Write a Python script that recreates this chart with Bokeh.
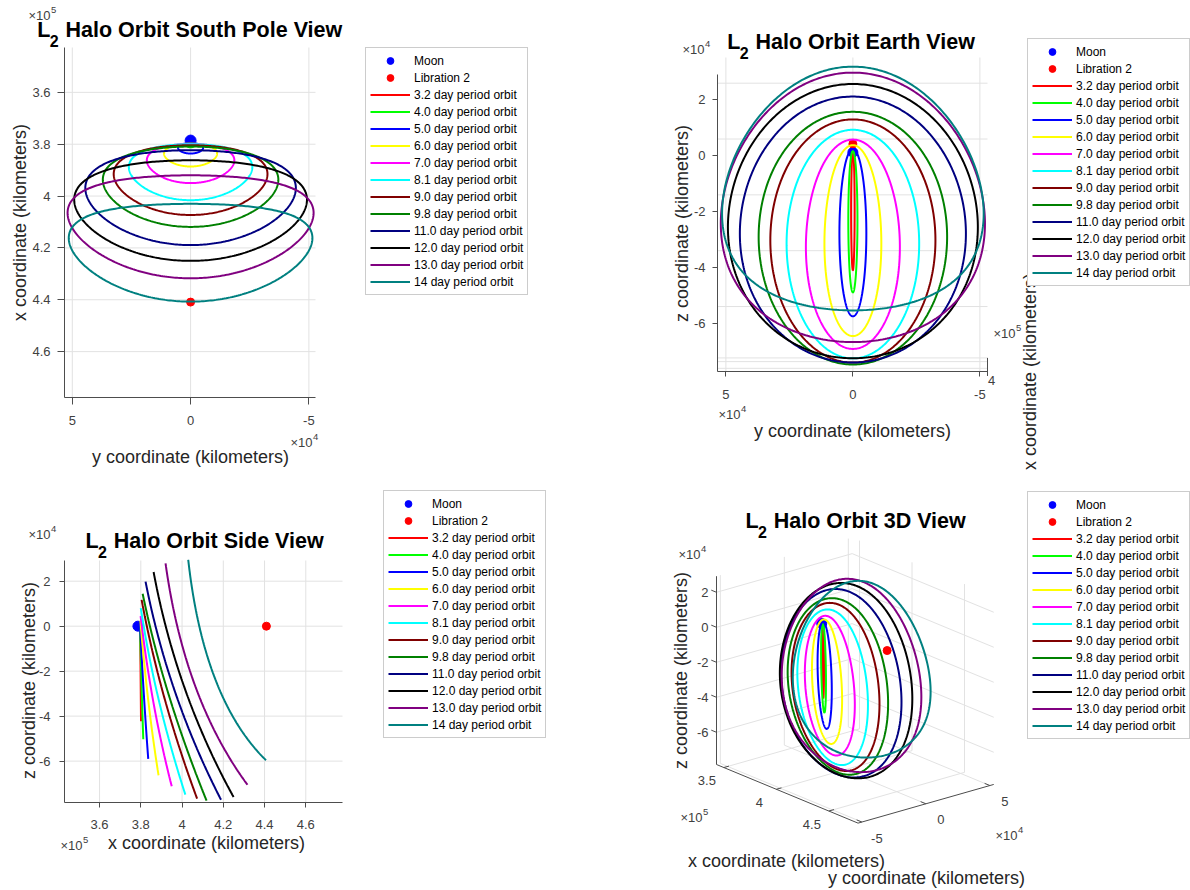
import numpy as np
from bokeh.plotting import figure
from bokeh.models import Range1d, FixedTicker, Label, Legend, LegendItem
from bokeh.layouts import row, column
from bokeh.core.properties import value
from bokeh.embed import file_html
from bokeh.resources import INLINE

FONT = "Liberation Sans"
TICK_COLOR = "#404040"
LABEL_COLOR = "#262626"
AXIS_COLOR = "#4d4d4d"
GRID_COLOR = "#e2e2e2"

# ---------------- data (km) ----------------
periods = ["3.2", "4.0", "5.0", "6.0", "7.0", "8.1", "9.0", "9.8", "11.0", "12.0", "13.0", "14"]
orbit_labels = [f"{p} day period orbit" for p in periods]
orbit_colors = ["#ff0000", "#00ff00", "#0000ff", "#ffff00", "#ff00ff", "#00ffff",
                "#800000", "#008000", "#000080", "#000000", "#800080", "#008080"]
x_min_km = [379700, 379600, 379600, 379800, 379900, 380000, 380400, 380900, 382300, 386200, 392000, 403000]
x_max_km = [380100, 381200, 383600, 388600, 395000, 401600, 407300, 411900, 418900, 425000, 431700, 440700]
x_side_km = [379900, 380300, 381400, 383600, 386200, 388800, 391500, 393700, 396900, 401400, 406500, 416200]
y_amp_km = [700, 1800, 5300, 11200, 18500, 26100, 32500, 37100, 44500, 49200, 52000, 51500]
z_max_km = [100, 500, 1100, 2500, 4500, 8000, 11700, 14400, 19800, 24100, 27900, 29500]
z_min_km = [-42300, -50300, -59000, -66300, -71200, -74900, -76700, -77600, -77200, -76000, -70500, -59600]
z_side_km = [-20800, -24500, -29200, -32900, -34300, -33200, -32100, -31000, -30000, -27900, -26900, -23800]
moon_xyz = [378600, 0, 0]
l2_xyz = [440900, 0, 0]

# ticks
y_ticks = [50000, 0, -50000]
y_tick_labels = ["5", "0", "-5"]
x_ticks = [360000, 380000, 400000, 420000, 440000, 460000]
x_tick_labels = ["3.6", "3.8", "4", "4.2", "4.4", "4.6"]
z_ticks = [-60000, -40000, -20000, 0, 20000]
z_tick_labels = ["-6", "-4", "-2", "0", "2"]
x3_ticks = [350000, 400000, 450000]
x3_tick_labels = ["3.5", "4", "4.5"]
y3_ticks = [-50000, 0, 50000]
y3_tick_labels = ["-5", "0", "5"]

# axis limits
X_LIM = (343000, 477800)
Y_LIM = (-53000, 53000)
Z_LIM = (-78400, 29200)

theta = np.linspace(0, 2 * np.pi, 361)


def orbit_xyz(i):
    c = np.cos(theta)
    s = np.sin(theta)
    qx = (x_max_km[i] - x_min_km[i]) / 2
    rx = (x_max_km[i] + x_min_km[i]) / 2 - x_side_km[i]
    qz = (z_min_km[i] - z_max_km[i]) / 2
    rz = (z_min_km[i] + z_max_km[i]) / 2 - z_side_km[i]
    x = x_side_km[i] + qx * c + rx * c * c
    y = y_amp_km[i] * s
    z = z_side_km[i] + qz * c + rz * c * c
    return x, y, z


class Px:
    """maps a page pixel position to data coordinates of a panel"""
    def __init__(self, L, T, R, B, xr, yr):
        self.L, self.T, self.R, self.B = L, T, R, B
        self.xr, self.yr = xr, yr

    def __call__(self, X, Y):
        x = self.xr[0] + (X - self.L) / (self.R - self.L) * (self.xr[1] - self.xr[0])
        y = self.yr[0] + (self.B - Y) / (self.B - self.T) * (self.yr[1] - self.yr[0])
        return x, y


def put(p, px, X, Y, text, size="13px", color=TICK_COLOR, bold=False, align="left",
        baseline="middle", angle=0.0):
    x, y = px(X, Y)
    p.add_layout(Label(x=x, y=y, text=text, text_font=FONT, text_font_size=size,
                       text_color=color, text_font_style="bold" if bold else "normal",
                       text_align=align, text_baseline=baseline, angle=angle))


def put_mult(p, px, X, Y, exp):
    put(p, px, X, Y, "×10", size="13px")
    put(p, px, X + 22.5, Y - 6, exp, size="9.5px")


def put_title(p, px, X, Ybase, rest):
    put(p, px, X, Ybase, "L", size="21.5px", color="black", bold=True, baseline="alphabetic")
    put(p, px, X + 12.5, Ybase + 11, "2", size="16px", color="black", bold=True, baseline="alphabetic")
    put(p, px, X + 28.3, Ybase, rest, size="21.5px", color="black", bold=True, baseline="alphabetic")


def make_2d(cx, cy, width, height, L, T, R, B, xr, yr):
    """the whole canvas is the frame; axes are fixed at the plot-box edges"""
    m = Px(L, T, R, B, xr, yr)
    x0, _ = m(cx, 0)
    x1, _ = m(cx + width, 0)
    _, y0 = m(0, cy + height)
    _, y1 = m(0, cy)
    p = figure(width=width, height=height, x_range=Range1d(x0, x1), y_range=Range1d(y0, y1),
               toolbar_location=None, output_backend="svg", min_border=0)
    p.outline_line_color = None
    p.background_fill_color = "white"
    p.grid.visible = False
    p.xaxis.fixed_location = yr[0]
    p.yaxis.fixed_location = xr[0]
    p.xaxis.bounds = (min(xr), max(xr))
    p.yaxis.bounds = (min(yr), max(yr))
    return p, m


def style_axes(p, xt, xl, yt, yl, xstand, ystand):
    p.xaxis.ticker = FixedTicker(ticks=xt)
    p.xaxis.major_label_overrides = {t: l for t, l in zip(xt, xl)}
    p.yaxis.ticker = FixedTicker(ticks=yt)
    p.yaxis.major_label_overrides = {t: l for t, l in zip(yt, yl)}
    p.axis.axis_line_color = AXIS_COLOR
    p.axis.major_tick_line_color = AXIS_COLOR
    p.axis.major_tick_out = 5
    p.axis.major_tick_in = 0
    p.axis.minor_tick_out = 0
    p.axis.minor_tick_in = 0
    p.axis.major_label_text_font = FONT
    p.axis.major_label_text_font_size = "13px"
    p.axis.major_label_text_color = TICK_COLOR
    p.xaxis.major_label_standoff = xstand
    p.yaxis.major_label_standoff = ystand


def add_grid(p, xr, yr, xt, yt):
    x0 = list(xt) + [xr[0]] * len(yt)
    x1 = list(xt) + [xr[1]] * len(yt)
    y0 = [yr[0]] * len(xt) + list(yt)
    y1 = [yr[1]] * len(xt) + list(yt)
    p.segment(x0=x0, y0=y0, x1=x1, y1=y1, line_color=GRID_COLOR, line_width=1)


def add_legend(p, rends, loc):
    names = ["Moon", "Libration 2"] + orbit_labels
    items = [LegendItem(label=n, renderers=[r]) for n, r in zip(names, rends)]
    leg = Legend(items=items, location=loc, orientation="vertical", glyph_width=40,
                 glyph_height=17, label_height=17, spacing=0, padding=4, margin=0,
                 label_standoff=4, label_text_font=FONT, label_text_font_size="12px",
                 label_text_color="black", border_line_color="#9a9a9a",
                 background_fill_color="white", background_fill_alpha=1.0)
    p.add_layout(leg)


orbits = [orbit_xyz(i) for i in range(len(periods))]

# ================= Panel 1: South pole view =================
P1_XR, P1_YR = (53300, -52800), (477700, 342700)
p1, px1 = make_2d(0, 0, 600, 475, 64, 47, 315, 397, P1_XR, P1_YR)
style_axes(p1, y_ticks, y_tick_labels, x_ticks, x_tick_labels, 13, 9)
p1.axis.major_tick_out = 7
p1.xaxis.major_label_standoff = 11
p1.yaxis.major_label_standoff = 7
add_grid(p1, P1_XR, P1_YR, y_ticks, x_ticks)
r1 = [p1.scatter([moon_xyz[1]], [moon_xyz[0]], size=11, color="#0000ff"),
      p1.scatter([l2_xyz[1]], [l2_xyz[0]], size=8, color="#ff0000")]
for i, (x, y, z) in enumerate(orbits):
    r1.append(p1.line(y, x, line_color=orbit_colors[i], line_width=2))
put_title(p1, px1, 36.7, 29, "Halo Orbit South Pole View")
put_mult(p1, px1, 28, 15, "5")
put_mult(p1, px1, 290, 442, "4")
put(p1, px1, 190, 456, "y coordinate (kilometers)", size="18px", color=LABEL_COLOR, align="center")
put(p1, px1, 19, 222, "x coordinate (kilometers)", size="18px", color=LABEL_COLOR, align="center",
    angle=np.pi / 2)
add_legend(p1, r1, (365, 180))

# ================= Panel 2: Earth view =================
EARTH_TILT = 0.048
EARTH_PIVOT = 353500


def z_app(x, z):
    return np.asarray(z) + EARTH_TILT * (np.asarray(x) - EARTH_PIVOT)


earth_grid = [float(z_app(X_LIM[1], zt)) for zt in z_ticks] + \
             [float(z_app(xt, Z_LIM[0])) for xt in (400000, 450000)] + \
             [float(z_app(X_LIM[1], Z_LIM[0]))]
P2_XR, P2_YR = (53300, -53000), (-77300, float(z_app(X_LIM[1], Z_LIM[1])))
p2, px2 = make_2d(600, 0, 590, 475, 717, 57, 987, 371, P2_XR, P2_YR)
p2.yaxis.bounds = (P2_YR[0], Z_LIM[1])
style_axes(p2, y_ticks, y_tick_labels, z_ticks, z_tick_labels, 13, 7)
add_grid(p2, P2_XR, P2_YR, y_ticks, earth_grid)
r2 = [p2.scatter([moon_xyz[1]], [float(z_app(moon_xyz[0], moon_xyz[2]))], size=10, color="#0000ff"),
      p2.scatter([l2_xyz[1]], [float(z_app(l2_xyz[0], l2_xyz[2]))], size=8, color="#ff0000")]
for i, (x, y, z) in enumerate(orbits):
    r2.append(p2.line(y, z_app(x, z), line_color=orbit_colors[i], line_width=2))
p2.segment(x0=[P2_XR[1]], y0=[float(z_app(X_LIM[0], Z_LIM[0]))],
           x1=[P2_XR[1]], y1=[float(z_app(X_LIM[1], Z_LIM[0]))], line_color=AXIS_COLOR, line_width=1)
put_title(p2, px2, 726.7, 41.7, "Halo Orbit Earth View")
put_mult(p2, px2, 682, 49, "4")
put_mult(p2, px2, 718, 414, "4")
put_mult(p2, px2, 993, 333, "5")
put(p2, px2, 991, 380, "4", size="13px", align="center")
put(p2, px2, 852, 430, "y coordinate (kilometers)", size="18px", color=LABEL_COLOR, align="center")
put(p2, px2, 681, 223, "z coordinate (kilometers)", size="18px", color=LABEL_COLOR, align="center",
    angle=np.pi / 2)
put(p2, px2, 1029, 371, "x coordinate (kilometers)", size="18px", color=LABEL_COLOR, align="center",
    angle=np.pi / 2)
add_legend(p2, r2, (427, 189))

# ================= Panel 3: Side view =================
p3, px3 = make_2d(0, 475, 600, 415, 64, 560, 342, 802, X_LIM, Z_LIM)
style_axes(p3, x_ticks, x_tick_labels, z_ticks, z_tick_labels, 12, 9)
add_grid(p3, X_LIM, Z_LIM, x_ticks, z_ticks)
r3 = [p3.scatter([moon_xyz[0]], [moon_xyz[2]], size=10, color="#0000ff"),
      p3.scatter([l2_xyz[0]], [l2_xyz[2]], size=8, color="#ff0000")]
for i, (x, y, z) in enumerate(orbits):
    r3.append(p3.line(x, z, line_color=orbit_colors[i], line_width=2))
put_title(p3, px3, 85, 540, "Halo Orbit Side View")
put_mult(p3, px3, 28, 534, "4")
put_mult(p3, px3, 60, 845, "5")
put(p3, px3, 206, 842, "x coordinate (kilometers)", size="18px", color=LABEL_COLOR, align="center")
put(p3, px3, 28, 680, "z coordinate (kilometers)", size="18px", color=LABEL_COLOR, align="center",
    angle=np.pi / 2)
add_legend(p3, r3, (383, 152))

# ================= Panel 4: 3D view (orthographic projection) =================
P0 = (716.0, 764.0)              # screen position of (xmin, ymin, zmin)
UX = (105 / 1e5, 43.5 / 1e5)      # screen px per km along x
UY = (12.8 / 1e4, -3.65 / 1e4)    # along y
UZ = (0.0, -17.5 / 1e4)           # along z


def proj3(x, y, z):
    x = np.asarray(x, float) - X_LIM[0]
    y = np.asarray(y, float) - Y_LIM[0]
    z = np.asarray(z, float) - Z_LIM[0]
    return (P0[0] + x * UX[0] + y * UY[0] + z * UZ[0],
            P0[1] + x * UX[1] + y * UY[1] + z * UZ[1])


p4 = figure(width=590, height=415, x_range=Range1d(600, 1190), y_range=Range1d(890, 475),
            x_axis_type=None, y_axis_type=None, toolbar_location=None, output_backend="svg",
            min_border=0)
p4.outline_line_color = None
px4 = Px(600, 475, 1190, 890, (600, 1190), (890, 475))

xl, xh = X_LIM
yl, yh = Y_LIM
zl, zh = Z_LIM


def seglist(pairs):
    a0, b0, a1, b1 = [], [], [], []
    for a, b in pairs:
        sa, sb = proj3(*a), proj3(*b)
        a0.append(float(sa[0])); b0.append(float(sa[1]))
        a1.append(float(sb[0])); b1.append(float(sb[1]))
    return dict(x0=a0, y0=b0, x1=a1, y1=b1)


grid_pairs = []
for yt in y3_ticks:
    grid_pairs.append(((xl, yt, zl), (xl, yt, zh)))
    grid_pairs.append(((xl, yt, zl), (xh, yt, zl)))
for zt in z_ticks:
    grid_pairs.append(((xl, yl, zt), (xl, yh, zt)))
    grid_pairs.append(((xl, yh, zt), (xh, yh, zt)))
for xt in x3_ticks:
    grid_pairs.append(((xt, yh, zl), (xt, yh, zh)))
    grid_pairs.append(((xt, yl, zl), (xt, yh, zl)))
p4.segment(**seglist(grid_pairs), line_color=GRID_COLOR, line_width=1)

axis_pairs = [((xl, yl, zl), (xl, yl, zh)), ((xl, yl, zl), (xh, yl, zl)), ((xh, yl, zl), (xh, yh, zl))]
tick_pairs = [((xl, yl, zt), (xl - 5000, yl, zt)) for zt in z_ticks] + \
             [((xt, yl, zl), (xt, yl + 4000, zl)) for xt in x3_ticks] + \
             [((xh, yt, zl), (xh - 5000, yt, zl)) for yt in y3_ticks]
p4.segment(**seglist(axis_pairs + tick_pairs), line_color=AXIS_COLOR, line_width=1)

zx, zy = proj3([xl] * len(z_ticks), [yl] * len(z_ticks), z_ticks)
p4.text(x=zx - 8, y=zy, text=z_tick_labels, text_font=value(FONT), text_font_size=value("13px"),
        text_color=TICK_COLOR, text_align="right", text_baseline="middle")
xx, xy = proj3(x3_ticks, [yl] * 3, [zl] * 3)
p4.text(x=xx - 17, y=xy + 13, text=x3_tick_labels, text_font=value(FONT), text_font_size=value("13px"),
        text_color=TICK_COLOR, text_align="center", text_baseline="middle")
yx, yy = proj3([xh] * 3, y3_ticks, [zl] * 3)
p4.text(x=yx + 15, y=yy + 16, text=y3_tick_labels, text_font=value(FONT), text_font_size=value("13px"),
        text_color=TICK_COLOR, text_align="center", text_baseline="middle")

mx, my = proj3(*moon_xyz)
lx, ly = proj3(*l2_xyz)
r4 = [p4.scatter([float(mx)], [float(my)], size=10, color="#0000ff"),
      p4.scatter([float(lx)], [float(ly)], size=8, color="#ff0000")]
for i, (x, y, z) in enumerate(orbits):
    sx, sy = proj3(x, y, z)
    r4.append(p4.line(sx, sy, line_color=orbit_colors[i], line_width=2))

put_title(p4, px4, 745, 520, "Halo Orbit 3D View")
put_mult(p4, px4, 678, 554, "4")
put_mult(p4, px4, 680, 817, "5")
put_mult(p4, px4, 995, 835, "4")
put(p4, px4, 680, 670, "z coordinate (kilometers)", size="18px", color=LABEL_COLOR, align="center",
    angle=np.pi / 2)
put(p4, px4, 786, 860, "x coordinate (kilometers)", size="18px", color=LABEL_COLOR, align="center")
put(p4, px4, 926, 877, "y coordinate (kilometers)", size="18px", color=LABEL_COLOR, align="center")
add_legend(p4, r4, (427, 151))

layout = column(row(p1, p2), row(p3, p4))
open("out.html", "w").write(file_html(layout, INLINE, title="L2 Halo Orbits"))
